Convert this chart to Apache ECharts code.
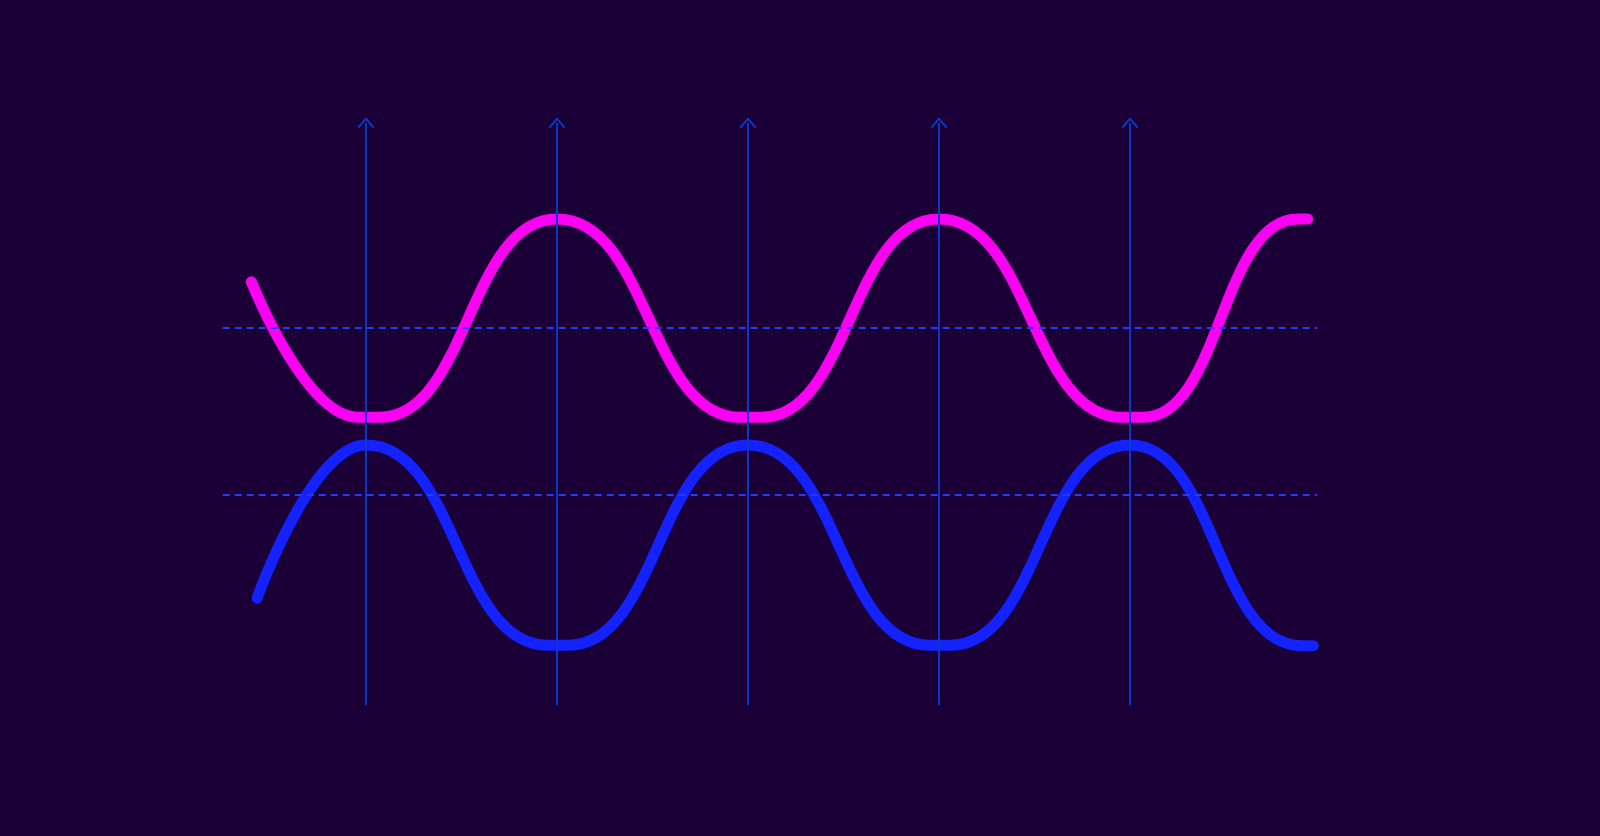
<!DOCTYPE html>
<html>
<head>
<meta charset="utf-8">
<script src="https://cdn.jsdelivr.net/npm/echarts@6/dist/echarts.min.js"></script>
<style>
  html, body { margin: 0; padding: 0; background: #1b0037; }
  #chart { width: 1600px; height: 836px; }
</style>
</head>
<body>
<div id="chart"></div>
<script>
// ---- data ----
const pinkX = [0.40, 0.96, 1.07, 2.00, 2.96, 3.07, 4.00, 4.96, 5.07, 5.88, 5.93];
const pinkY = [72.1, 49.0, 49.0, 82.8, 49.0, 49.0, 82.8, 49.0, 49.0, 82.8, 82.8];
const blueX = [0.43, 1.00, 1.95, 2.06, 3.00, 3.95, 4.06, 5.00, 5.90, 5.96];
const blueY = [18.2, 44.3, 10.2, 10.2, 44.3, 10.2, 10.2, 44.3, 10.1, 10.1];
const vlineX = [1, 2, 3, 4, 5];
const vlineBottom = 0;
const vlineTop = 99.2;
const hlineY = [64.2, 35.9];
const hlineStart = 0.25;
const hlineEnd = 5.98;

const chevron = 'path://M0,9 L8,0 L16,9 L14.4,10.2 L8,2.9 L1.6,10.2 Z';

const zip = (xs, ys) => xs.map((x, i) => [x, ys[i]]);

const chart = echarts.init(document.getElementById('chart'), null, { renderer: 'canvas' });
chart.setOption({
  backgroundColor: '#1b0037',
  animation: false,
  grid: { left: 175, right: 279, top: 118, bottom: 131 },
  xAxis: { type: 'value', min: 0, max: 6, show: false },
  yAxis: { type: 'value', min: 0, max: 100, show: false },
  series: [
    {
      name: 'guides-v',
      type: 'line',
      data: [],
      z: 1,
      silent: true,
      markLine: {
        silent: true,
        animation: false,
        symbol: ['none', chevron],
        label: { show: false },
        emphasis: { disabled: true },
        lineStyle: { color: '#0c37c4', width: 2, type: 'solid' },
        data: vlineX.map(x => [
          { coord: [x, vlineBottom], symbol: 'none' },
          { coord: [x, vlineTop], symbol: chevron, symbolSize: [17, 11] }
        ])
      }
    },
    {
      name: 'guides-h',
      type: 'line',
      data: [],
      z: 1,
      silent: true,
      markLine: {
        silent: true,
        animation: false,
        symbol: ['none', 'none'],
        label: { show: false },
        emphasis: { disabled: true },
        lineStyle: { color: '#1f3cff', width: 2, type: [7, 5] },
        data: hlineY.map(y => [
          { coord: [hlineStart, y] },
          { coord: [hlineEnd, y] }
        ])
      }
    },
    {
      name: 'pink',
      type: 'line',
      z: 3,
      smooth: 0.5,
      smoothMonotone: 'x',
      showSymbol: false,
      symbol: 'none',
      data: zip(pinkX, pinkY),
      lineStyle: { color: '#fc00f4', width: 11, cap: 'round', join: 'round' }
    },
    {
      name: 'blue',
      type: 'line',
      z: 3,
      smooth: 0.5,
      smoothMonotone: 'x',
      showSymbol: false,
      symbol: 'none',
      data: zip(blueX, blueY),
      lineStyle: { color: '#1422ff', width: 11, cap: 'round', join: 'round' }
    }
  ]
});
</script>
</body>
</html>
